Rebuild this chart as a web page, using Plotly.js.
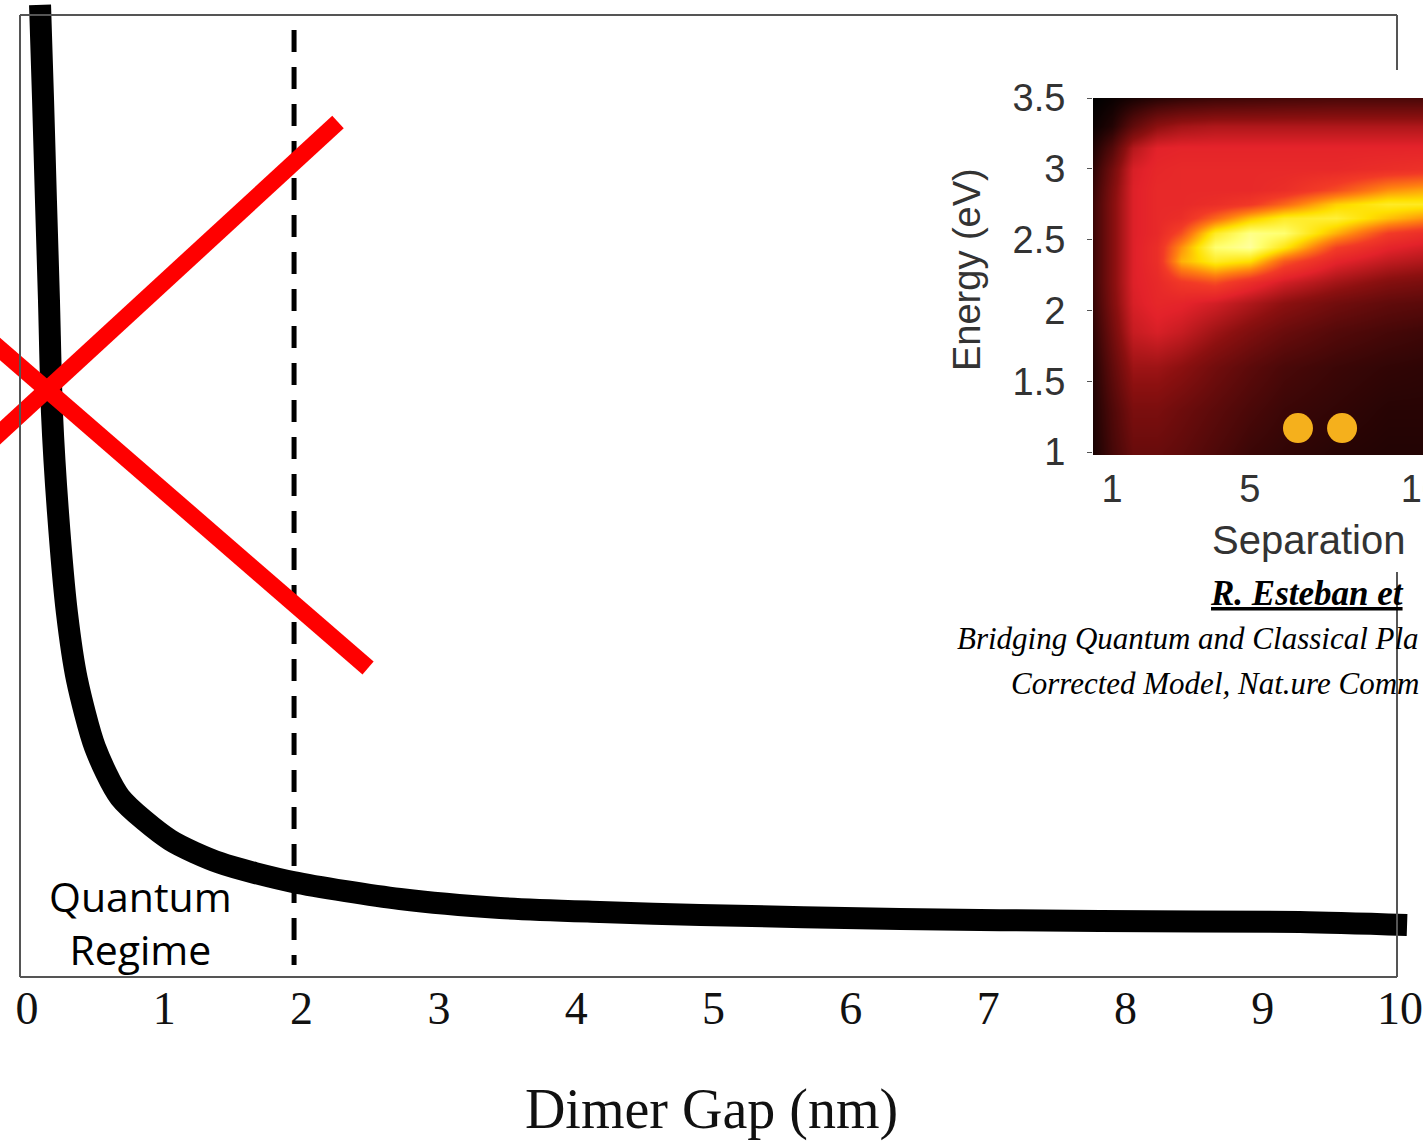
<!DOCTYPE html>
<html>
<head>
<meta charset="utf-8">
<script src="https://cdn.plot.ly/plotly-3.0.1.min.js"></script>
<style>html,body{margin:0;padding:0;background:#fff;overflow:hidden}#chart{width:1423px;height:1141px}</style>
</head>
<body>
<div id="chart"></div>
<script>
// ---- main curve (Dimer Gap in nm vs arbitrary units) ----
const gapNm = [0.095, 0.117, 0.138, 0.160, 0.182, 0.226, 0.291, 0.364, 0.495, 0.677, 1.042, 1.406, 1.937, 2.717, 3.445, 4.173, 4.902, 6.358, 7.815, 9.272, 10.051];
const curveVal = [101.1, 91.2, 80.8, 70.4, 58.65, 48.25, 37.85, 30.9, 23.9, 18.7, 14.25, 11.86, 9.88, 8.11, 7.18, 6.76, 6.45, 6.03, 5.82, 5.72, 5.41];
const xTicks = [0, 1, 2, 3, 4, 5, 6, 7, 8, 9, 10];

// quantum regime boundary (dashed)
const boundaryX = [1.945, 1.945];
const boundaryY = [98.48, 1.25];

// red cross
const crossAX = [-0.3, 2.265];
const crossAY = [55.22, 88.91];
const crossBX = [-0.3, 2.484];
const crossBY = [66.58, 32.13];

// ---- inset heatmap (Separation vs Energy) ----
const sepVals = [0.45, 1.0, 1.6, 2.3, 3.0, 4.0, 5.0, 6.0, 7.5, 9.0, 10.5];
const energyVals = [1.0, 1.3, 1.6, 1.85, 2.05, 2.2, 2.35, 2.45, 2.55, 2.65, 2.75, 2.85, 3.0, 3.15, 3.3, 3.5];
const intensity = [
  [0.05, 0.14, 0.22, 0.22, 0.20, 0.16, 0.12, 0.10, 0.08, 0.07, 0.07],
  [0.06, 0.16, 0.26, 0.26, 0.23, 0.19, 0.15, 0.12, 0.10, 0.08, 0.08],
  [0.07, 0.20, 0.33, 0.33, 0.30, 0.24, 0.19, 0.15, 0.12, 0.10, 0.09],
  [0.09, 0.24, 0.40, 0.43, 0.40, 0.33, 0.27, 0.22, 0.17, 0.14, 0.12],
  [0.11, 0.27, 0.43, 0.47, 0.46, 0.42, 0.36, 0.30, 0.24, 0.20, 0.18],
  [0.12, 0.28, 0.44, 0.48, 0.54, 0.58, 0.50, 0.42, 0.34, 0.28, 0.25],
  [0.12, 0.28, 0.44, 0.50, 0.72, 0.82, 0.78, 0.60, 0.46, 0.39, 0.35],
  [0.12, 0.28, 0.44, 0.50, 0.68, 0.90, 0.94, 0.80, 0.56, 0.46, 0.41],
  [0.12, 0.28, 0.44, 0.48, 0.58, 0.82, 0.92, 0.90, 0.72, 0.55, 0.48],
  [0.12, 0.28, 0.44, 0.48, 0.50, 0.62, 0.74, 0.82, 0.84, 0.74, 0.66],
  [0.12, 0.28, 0.44, 0.48, 0.48, 0.50, 0.54, 0.62, 0.76, 0.82, 0.81],
  [0.11, 0.27, 0.44, 0.48, 0.48, 0.48, 0.48, 0.50, 0.58, 0.68, 0.72],
  [0.09, 0.24, 0.43, 0.47, 0.48, 0.48, 0.48, 0.48, 0.48, 0.50, 0.52],
  [0.06, 0.17, 0.37, 0.45, 0.46, 0.46, 0.46, 0.46, 0.46, 0.46, 0.46],
  [0.02, 0.07, 0.20, 0.30, 0.34, 0.36, 0.36, 0.36, 0.36, 0.36, 0.36],
  [0.00, 0.02, 0.05, 0.08, 0.10, 0.12, 0.13, 0.14, 0.15, 0.15, 0.15]
];
const dotSep = [6.40, 7.68];
const dotEnergy = [1.17, 1.17];
const insetXTicks = [1, 5, 10];
const insetYTicks = [1, 1.5, 2, 2.5, 3, 3.5];

const traces = [
  {x: gapNm, y: curveVal, type: 'scatter', mode: 'lines', xaxis: 'x', yaxis: 'y',
   line: {color: '#000', width: 22, shape: 'spline', smoothing: 0.7}, hoverinfo: 'skip'},
  {x: boundaryX, y: boundaryY, type: 'scatter', mode: 'lines', xaxis: 'x', yaxis: 'y',
   line: {color: '#000', width: 5, dash: '22px,15px'}, hoverinfo: 'skip'},
  {x: crossAX, y: crossAY, type: 'scatter', mode: 'lines', xaxis: 'x', yaxis: 'y',
   line: {color: '#ff0000', width: 17}, hoverinfo: 'skip'},
  {x: crossBX, y: crossBY, type: 'scatter', mode: 'lines', xaxis: 'x', yaxis: 'y',
   line: {color: '#ff0000', width: 17}, hoverinfo: 'skip'},
  {x: sepVals, y: energyVals, z: intensity, type: 'heatmap', xaxis: 'x2', yaxis: 'y2',
   zsmooth: 'best', showscale: false, zmin: 0, zmax: 1,
   colorscale: [[0, '#000000'], [0.15, '#4a0808'], [0.3, '#8c1010'], [0.45, '#e3222a'],
                [0.55, '#f23a26'], [0.66, '#ff8010'], [0.78, '#ffe000'], [0.9, '#ffff70'], [1, '#ffffe0']]},
  {x: dotSep, y: dotEnergy, type: 'scatter', mode: 'markers', xaxis: 'x2', yaxis: 'y2',
   marker: {color: '#f5b01c', size: 30, line: {width: 0}}, hoverinfo: 'skip'}
];

const W = 1423, PH = 977;
const px = v => v / W;
const py = v => (PH - v) / PH;
const frameColor = '#555';

const layout = {
  width: 1423, height: 1141,
  margin: {l: 0, r: 0, t: 0, b: 164, pad: 0},
  paper_bgcolor: '#fff', plot_bgcolor: 'rgba(0,0,0,0)',
  showlegend: false,
  xaxis: {domain: [0, 1], range: [-0.1966, 10.167], tickvals: xTicks, ticks: '',
    showgrid: false, zeroline: false, showline: false, ticklabelstandoff: 0, ticklabeloverflow: 'allow',
    tickfont: {family: 'Liberation Serif', size: 46, color: '#111'},
    title: {text: 'Dimer Gap (nm)', font: {family: 'Liberation Serif', size: 56, color: '#111'}, standoff: 57}},
  yaxis: {domain: [0, 1], range: [0, 101.6], visible: false},
  xaxis2: {domain: [1093 / W, 1], anchor: 'y2', range: [0.448, 10.03], tickvals: insetXTicks,
    ticks: '', showgrid: false, zeroline: false, showline: false,
    ticklabelstandoff: 8, ticklabeloverflow: 'allow',
    tickfont: {family: 'Liberation Sans', size: 38, color: '#333'}},
  yaxis2: {domain: [py(455), py(98)], anchor: 'x2', range: [0.98, 3.5], tickvals: insetYTicks,
    ticks: 'outside', ticklen: 5, tickcolor: '#555', showgrid: false, zeroline: false, showline: false,
    ticklabelstandoff: 14,
    tickfont: {family: 'Liberation Sans', size: 38, color: '#333'}},
  shapes: [
    {type: 'line', xref: 'paper', yref: 'paper', x0: px(20), x1: px(1397), y0: py(15), y1: py(15), line: {color: frameColor, width: 2}},
    {type: 'line', xref: 'paper', yref: 'paper', x0: px(20), x1: px(20), y0: py(15), y1: py(977), line: {color: frameColor, width: 2}},
    {type: 'line', xref: 'paper', yref: 'paper', x0: px(20), x1: px(1397), y0: py(977), y1: py(977), line: {color: frameColor, width: 2}},
    {type: 'line', xref: 'paper', yref: 'paper', x0: px(1397), x1: px(1397), y0: py(15), y1: py(70), line: {color: frameColor, width: 2}},
    {type: 'line', xref: 'paper', yref: 'paper', x0: px(1397), x1: px(1397), y0: py(572), y1: py(977), line: {color: frameColor, width: 2}}
  ],
  annotations: [
    {xref: 'paper', yref: 'paper', x: px(140), y: py(922), text: 'Quantum<br>Regime', showarrow: false,
     xanchor: 'center', yanchor: 'middle', align: 'center', font: {family: 'Open Sans', size: 41, color: '#000'}},
    {xref: 'paper', yref: 'paper', x: px(967), y: py(270), text: 'Energy (eV)', textangle: -90, showarrow: false,
     xanchor: 'center', yanchor: 'middle', font: {family: 'Liberation Sans', size: 38, color: '#333'}},
    {xref: 'paper', yref: 'paper', x: px(1210), y: py(540), text: 'Separation', showarrow: false,
     xanchor: 'left', yanchor: 'middle', font: {family: 'Liberation Sans', size: 40, color: '#333'}},
    {xref: 'paper', yref: 'paper', x: px(1208), y: py(593), text: '<b><i><u>R. Esteban et</u></i></b>', showarrow: false,
     xanchor: 'left', yanchor: 'middle', font: {family: 'Liberation Serif', size: 35, color: '#000'}},
    {xref: 'paper', yref: 'paper', x: px(955), y: py(638), text: '<i>Bridging Quantum and Classical Pla</i>', showarrow: false,
     xanchor: 'left', yanchor: 'middle', font: {family: 'Liberation Serif', size: 31, color: '#000'}},
    {xref: 'paper', yref: 'paper', x: px(1009), y: py(683), text: '<i>Corrected Model, Nat.ure Comm</i>', showarrow: false,
     xanchor: 'left', yanchor: 'middle', font: {family: 'Liberation Serif', size: 31, color: '#000'}}
  ]
};

Plotly.newPlot('chart', traces, layout, {staticPlot: true, displayModeBar: false});
</script>
</body>
</html>
